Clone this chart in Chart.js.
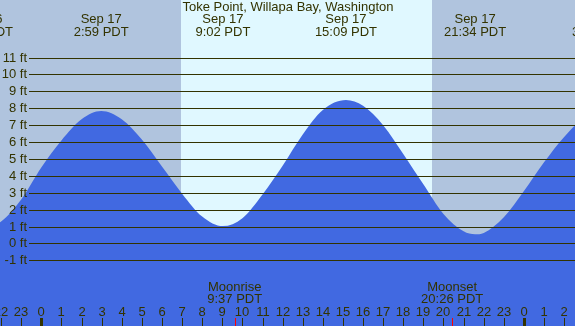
<!DOCTYPE html>
<html>
<head>
<meta charset="utf-8">
<script src="https://cdn.jsdelivr.net/npm/chart.js@4"></script>
<style>
  html, body { margin: 0; padding: 0; background: #b0c4de; }
  #wrap { width: 575px; height: 326px; position: relative; }
</style>
</head>
<body>
<div id="wrap"><canvas id="tide"></canvas></div>
<script>
// tide curve (hours from midnight Sep 17, feet)
const tideHours = [-3, -2, -1, 0, 1, 2, 2.98, 4, 5, 6, 7, 8, 9.03, 10, 11, 12, 13, 14, 15.15, 16, 17, 18, 19, 20, 21, 21.57, 22, 23, 24, 25, 26, 27, 27.75];
const tideFeet  = [0.9, 1.3, 2.6, 4.5, 6.1, 7.35, 7.84, 7.35, 6.15, 4.55, 2.95, 1.6, 1.03, 1.5, 2.9, 4.6, 6.45, 7.9, 8.49, 8.15, 7.0, 5.3, 3.5, 1.75, 0.72, 0.54, 0.62, 1.55, 3.1, 4.8, 6.3, 7.45, 7.7];

// high / low labels along the top
const extremeHours = [-2.95, 2.98, 9.03, 15.15, 21.57, 27.75];
const extremeDates = ['Sep 16', 'Sep 17', 'Sep 17', 'Sep 17', 'Sep 17', 'Sep 18'];
const extremeTimes = ['20:57 PDT', '2:59 PDT', '9:02 PDT', '15:09 PDT', '21:34 PDT', '3:45 PDT'];

// daylight
const sunrise = 6.95;
const sunset = 19.43;

// moon events
const moonHours = [9.617, 20.433];
const moonNames = ['Moonrise', 'Moonset'];
const moonTimes = ['9:37 PDT', '20:26 PDT'];

// axes
const feetTicks = [-1, 0, 1, 2, 3, 4, 5, 6, 7, 8, 9, 10, 11];
const hourTicks = [-2, -1, 0, 1, 2, 3, 4, 5, 6, 7, 8, 9, 10, 11, 12, 13, 14, 15, 16, 17, 18, 19, 20, 21, 22, 23, 24, 25, 26];

const TXT = '#333300';
const FONT = '"Liberation Sans", Arial, sans-serif';

const tidePlugin = {
  id: 'tideDecor',
  beforeDraw(chart) {
    const { ctx, chartArea: a, scales: { x } } = chart;
    ctx.save();
    ctx.fillStyle = '#b0c4de';
    ctx.fillRect(0, 0, chart.width, chart.height);
    ctx.fillStyle = '#e0f8ff';
    const x0 = Math.round(x.getPixelForValue(sunrise));
    const x1 = Math.round(x.getPixelForValue(sunset));
    ctx.fillRect(x0, a.top, x1 - x0, a.bottom - a.top);
    ctx.restore();
  },
  afterDatasetsDraw(chart) {
    const { ctx, scales: { x, y } } = chart;
    ctx.save();
    // horizontal foot lines + labels
    ctx.strokeStyle = TXT;
    ctx.lineWidth = 1;
    ctx.fillStyle = TXT;
    ctx.font = '13px ' + FONT;
    ctx.textAlign = 'right';
    ctx.textBaseline = 'middle';
    feetTicks.forEach(f => {
      const py = Math.round(y.getPixelForValue(f)) + 0.5;
      ctx.beginPath();
      ctx.moveTo(29, py);
      ctx.lineTo(chart.width, py);
      ctx.stroke();
      ctx.fillText(f + ' ft', 27, py);
    });

    // title
    ctx.textAlign = 'center';
    ctx.fillText('Toke Point, Willapa Bay, Washington', 288, 7.5);

    // high / low labels
    extremeHours.forEach((h, i) => {
      const px = x.getPixelForValue(h);
      ctx.fillText(extremeDates[i], px, 19.5);
      ctx.fillText(extremeTimes[i], px, 32);
    });

    // moon labels + red ticks
    moonHours.forEach((h, i) => {
      const px = x.getPixelForValue(h);
      ctx.fillText(moonNames[i], px, 287);
      ctx.fillText(moonTimes[i], px, 299.5);
      ctx.fillStyle = '#ff0000';
      ctx.fillRect(Math.round(px), 318, 1, 8);
      ctx.fillStyle = TXT;
    });

    // hour ticks + labels
    hourTicks.forEach(h => {
      const px = Math.round(x.getPixelForValue(h));
      const hr = ((h % 24) + 24) % 24;
      ctx.fillText(String(hr), px, 312);
      if (hr === 0) ctx.fillRect(px - 1, 318, 3, 8);
      else ctx.fillRect(px, 318, 1, 8);
    });
    ctx.restore();
  }
};

new Chart(document.getElementById('tide'), {
  type: 'line',
  data: {
    datasets: [{
      data: tideHours.map((h, i) => ({ x: h, y: tideFeet[i] })),
      borderWidth: 0,
      borderColor: 'rgba(0,0,0,0)',
      backgroundColor: '#4169e1',
      fill: 'start',
      pointRadius: 0,
      cubicInterpolationMode: 'monotone'
    }]
  },
  options: {
    responsive: true,
    maintainAspectRatio: false,
    animation: false,
    layout: { padding: 0 },
    plugins: { legend: { display: false }, tooltip: { enabled: false } },
    scales: {
      x: { type: 'linear', min: -2.054, max: 26.54, display: false },
      y: { type: 'linear', min: -4.882, max: 14.408, display: false }
    }
  },
  plugins: [tidePlugin]
});
</script>
</body>
</html>
